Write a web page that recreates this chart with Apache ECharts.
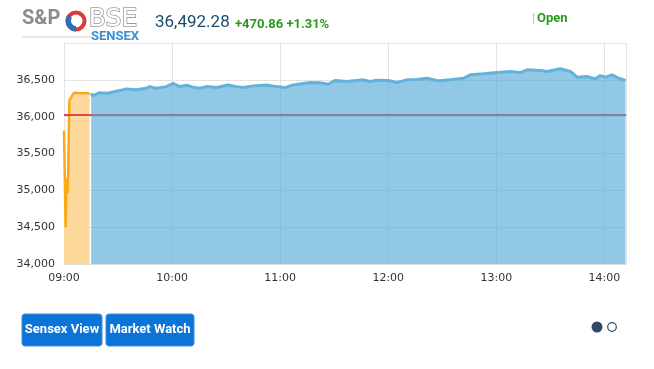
<!DOCTYPE html>
<html><head><meta charset="utf-8">
<script src="https://cdn.jsdelivr.net/npm/echarts@6/dist/echarts.min.js"></script>
<style>html,body{margin:0;padding:0;background:#fff}#c{width:654px;height:369px}</style>
</head><body><div id="c"></div>
<script>
// minutes after 09:00
const preOpenMinutes = [0, 0.9, 1.4, 2.1, 3.0, 4.2, 4.8, 5.6, 8, 14.2];
const preOpenValues  = [35808, 34500, 35163, 34960, 36227, 36272, 36272, 36326, 36322, 36318];
const tradeMinutes = [15.1, 15.9, 19.7, 24.2, 25.3, 30.9, 34.6, 40.2, 45.7, 47.6, 51.3, 56.8, 60.5, 64.2, 68, 71.6, 75.4, 79.1, 84.6, 91.1, 95.8, 99.4, 105, 112.5, 118, 122.6, 127.3, 136.5, 142.1, 146.7, 150.4, 157, 166.2, 169.9, 173.6, 180.1, 184.8, 190.3, 195.9, 201.4, 207, 208.8, 214.4, 221.8, 225.5, 232.9, 240.4, 247.8, 253.3, 257.1, 264.5, 268.2, 275.6, 281.2, 284.9, 290.4, 295, 297.8, 300.6, 304.3, 308, 311.7];
const tradeValues  = [36318, 36281, 36326, 36318, 36299, 36354, 36377, 36364, 36386, 36408, 36386, 36408, 36454, 36408, 36427, 36400, 36386, 36408, 36395, 36431, 36408, 36395, 36418, 36431, 36408, 36395, 36431, 36463, 36460, 36440, 36490, 36477, 36500, 36477, 36495, 36490, 36463, 36500, 36504, 36522, 36490, 36486, 36500, 36522, 36568, 36581, 36599, 36613, 36599, 36636, 36627, 36613, 36650, 36613, 36536, 36545, 36513, 36558, 36536, 36568, 36522, 36492.28];
const previousClose = 36021.42;
const xRange = [0, 312];
const yTicks = [34000, 34500, 35000, 35500, 36000, 36500, 37000];
const lastValue = '36,492.28';
const change = '+470.86 +1.31%';
const status = 'Open';
const buttons = ['Sensex View', 'Market Watch'];

const zip = (a, b) => a.map((v, i) => [v, b[i]]);
const fmtTime = m => { const h = 9 + Math.floor(m / 60), mm = Math.round(m % 60); return (h < 10 ? '0' : '') + h + ':' + (mm < 10 ? '0' : '') + mm; };

const chart = echarts.init(document.getElementById('c'), null, {renderer: 'canvas'});
chart.setOption({
  animation: false,
  grid: {left: 64, right: 28, top: 43, bottom: 105},
  xAxis: {
    type: 'value', min: xRange[0], max: xRange[1], interval: 60,
    axisLine: {show: true, lineStyle: {color: '#dcdcdc'}},
    axisTick: {show: false},
    splitLine: {show: true, lineStyle: {color: '#e3e3e3'}},
    axisLabel: {color: '#333', fontFamily: 'DejaVu Sans', fontSize: 11, margin: 9,
      formatter: v => (v % 60 === 0 ? fmtTime(v) : '')}
  },
  yAxis: {
    type: 'value', min: yTicks[0], max: yTicks[yTicks.length - 1], interval: 500,
    axisLine: {show: false}, axisTick: {show: false},
    splitLine: {show: true, lineStyle: {color: '#e3e3e3'}},
    axisLabel: {color: '#333', fontFamily: 'DejaVu Sans', fontSize: 11, margin: 9,
      formatter: v => (v === yTicks[yTicks.length - 1] ? '' : v.toLocaleString('en-US'))}
  },
  series: [
    {type: 'line', data: zip(preOpenMinutes, preOpenValues), symbol: 'none',
     lineStyle: {color: '#FBA919', width: 2.5}, areaStyle: {color: '#FDDA9C', opacity: 1}, z: 2},
    {type: 'line', data: [[xRange[0], previousClose], [xRange[1], previousClose]], symbol: 'none',
     lineStyle: {color: '#E0474C', width: 2}, z: 3},
    {type: 'line', data: zip(tradeMinutes, tradeValues), symbol: 'none',
     lineStyle: {color: '#62B2DC', width: 3}, areaStyle: {color: 'rgba(78,166,213,0.62)', opacity: 1}, z: 4}
  ],
  graphic: [
    {type: 'text', left: 22, top: 9, style: {text: 'S&P', fill: '#8c8c8c', font: 'bold 20px Roboto'}},
    {type: 'circle', shape: {cx: 76, cy: 21, r: 8.5}, style: {fill: 'none', stroke: '#d93a3a', lineWidth: 4}},
    {type: 'sector', shape: {cx: 76, cy: 21, r: 10.5, r0: 5, startAngle: Math.PI * 0.5, endAngle: Math.PI * 1.2}, style: {fill: '#2f6fb7'}},
    {type: 'text', left: 88, top: 6, style: {text: 'BSE', fill: '#fff', stroke: '#9a9a9a', lineWidth: 1.6, font: '25px "DejaVu Sans"'}},
    {type: 'line', shape: {x1: 22, y1: 37, x2: 91, y2: 37}, style: {stroke: '#cfcfcf', lineWidth: 1}},
    {type: 'text', left: 91, top: 30, style: {text: 'SENSEX', fill: '#3a8fd0', font: 'bold 13px Roboto'}},
    {type: 'text', left: 155, top: 14, style: {text: lastValue, fill: '#1d4b6c', font: '17px Roboto'}},
    {type: 'text', left: 235, top: 18, style: {text: change, fill: '#2a9a1c', font: 'bold 13px Roboto'}},
    {type: 'text', left: 532, top: 12, style: {text: '|', fill: '#bbbbbb', font: '13px Roboto'}},
    {type: 'text', left: 537, top: 12, style: {text: status, fill: '#2a9a1c', font: 'bold 13px Roboto'}},
    {type: 'rect', shape: {x: 22, y: 314, width: 80, height: 32, r: 3}, style: {fill: '#0b74d9', stroke: '#3f8fdc', lineWidth: 1}},
    {type: 'text', x: 62, y: 330, style: {text: buttons[0], fill: '#fff', font: 'bold 13px Roboto', align: 'center', verticalAlign: 'middle'}},
    {type: 'rect', shape: {x: 106, y: 314, width: 88, height: 32, r: 3}, style: {fill: '#0b74d9', stroke: '#3f8fdc', lineWidth: 1}},
    {type: 'text', x: 150, y: 330, style: {text: buttons[1], fill: '#fff', font: 'bold 13px Roboto', align: 'center', verticalAlign: 'middle'}},
    {type: 'circle', shape: {cx: 597, cy: 327, r: 5.5}, style: {fill: '#2e4a62'}},
    {type: 'circle', shape: {cx: 612, cy: 327, r: 4.3}, style: {fill: '#fff', stroke: '#2e4a62', lineWidth: 1.2}}
  ]
});
</script></body></html>
